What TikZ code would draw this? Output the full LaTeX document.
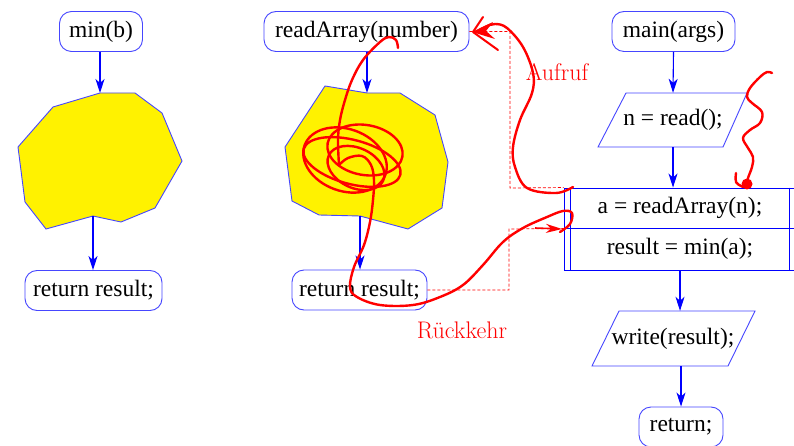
\documentclass[tikz,border=0pt]{standalone}
\usepackage{fontspec}
\newfontfamily\tnr{Liberation Serif}
\usetikzlibrary{arrows.meta,calc}
\definecolor{bline}{RGB}{70,70,255}
\begin{document}
\begin{tikzpicture}[x=1pt,y=-1pt,
  every node/.style={font=\tnr\fontsize{23.5}{28}\selectfont, inner sep=0pt},
  term/.style={draw=bline, line width=0.9pt, rounded corners=12pt, minimum height=40pt},
  pline/.style={draw=bline, line width=0.9pt},
  poly/.style={draw=bline, fill=yellow, line width=0.9pt},
  stmt/.style={draw=blue, line width=0.9pt, minimum width=232pt},
  arr/.style={draw=blue, line width=1.1pt, -{Stealth[length=14pt,width=9pt,inset=4pt]}},
  reddash/.style={draw=red, line width=0.7pt, dash pattern=on 3pt off 2pt},
  hand/.style={draw=red, line width=2.4pt, line cap=round, line join=round},
  lbl/.style={text=red, font=\rmfamily\fontsize{24}{28}\selectfont}
  ]
\useasboundingbox (0,0) rectangle (794,446);
\fill[white] (0,0) rectangle (794,446);

% polygons
\draw[poly] (100,93) coordinate (pa) -- (135,93) -- (162,113) -- (182,161) -- (155,208) -- (121,222) -- (93,216) coordinate (pb) -- (46,229) -- (25,202) -- (18,147) -- (53,107) -- cycle;
\draw[poly] (325,86) -- (367,93) coordinate (qa) -- (400,93) -- (435,115) -- (448,162) -- (442,208) -- (408,229) -- (360,216) coordinate (qb) -- (319,215) -- (292,201) -- (285,147) -- cycle;

% terminal nodes
\node[term, minimum width=83pt] (minb) at (101,31.5) {min(b)};
\node[term, minimum width=137pt] (ret1) at (93.5,290.5) {return result;};
\node[term, minimum width=205pt] (ra) at (366.5,31.5) {readArray(number)};
\node[term, minimum width=135pt] (ret2) at (359.5,290) {return result;};
\node[term, minimum width=123pt] (main) at (673.5,31.5) {main(args)};
\node[term, minimum width=84pt] (ret3) at (681,427) {return;};

% parallelograms
\node[minimum width=90pt, minimum height=54pt] (rd) at (673,120) {n = read();};
\draw[pline] (626,93) -- (747,93) -- (723,147) -- (598,147) -- cycle;
\node[minimum width=90pt, minimum height=55pt] (wr) at (673,338.5) {write(result);};
\draw[pline] (619,311) -- (755,311) -- (728,366) -- (592,366) -- cycle;

% statement box
\node[stmt, minimum height=40pt] (s1) at (680,208) {a = readArray(n);};
\node[stmt, minimum height=42pt] (s2) at (680,249) {result = min(a);};
\draw[blue, line width=0.9pt] ([xshift=7pt]s1.north west) -- ([xshift=7pt]s2.south west);
\draw[blue, line width=0.9pt] ([xshift=-7pt]s1.north east) -- ([xshift=-7pt]s2.south east);

% arrows
\draw[arr] (pa |- minb.south) -- (pa);
\draw[arr] (pb) -- (pb |- ret1.north);
\draw[arr] (qa |- ra.south) -- (qa);
\draw[arr] (qb) -- (qb |- ret2.north);
\draw[arr] (main.south) -- (rd.north);
\draw[arr] (rd.south) -- (rd.south |- s1.north);
\draw[arr] (s2.south) -- (s2.south |- wr.north);
\draw[arr] (ret3.north |- wr.south) -- (ret3.north);

% dashed call/return lines
\draw[reddash] (ra.east) -| (510,188) -- (s1.north west);
\draw[reddash] (ret2.east) -| (509,229) -- (s1.south west);

% labels
\node[lbl] (auf) at (557,72) {Aufruf};
\node[lbl] (rk) at (462,330) {Rückkehr};

% hand drawn: Aufruf
\draw[hand] plot[smooth, tension=0.6] coordinates {(573,187) (556,193) (527,188) (515,167) (513,147) (520,120) (532,93) (533,73) (523,47) (507,28) (495,24) (485,27) (476,32)};
\fill[red] (472,32) -- (493,22) -- (486,31) -- (495,39) -- cycle;
\draw[hand, line width=2pt] (483,17) -- (473,32) -- (498,50);

% hand drawn: Rueckkehr with scribble
\draw[hand] plot[smooth, tension=0.6] coordinates {(398,48) (396,40) (389,37) (380,42) (363,60) (352,80) (345,100) (340,120) (338,140) (339,165)};
\draw[hand, rotate around={-20:(345,160)}] (345,160) ellipse [x radius=43, y radius=31];
\draw[hand, rotate around={-10:(365,150)}] (365,150) ellipse [x radius=38, y radius=25];
\draw[hand, rotate around={-15:(352,162)}] (352,162) ellipse [x radius=50, y radius=22];
\draw[hand, rotate around={-25:(356,168)}] (356,168) ellipse [x radius=30, y radius=20];
\draw[hand] plot[smooth, tension=0.6] coordinates {(339,165) (348,158) (362,156) (371,165) (374,180) (373,200) (370,222) (364,245) (354,267) (350,287) (357,297) (380,305) (413,305) (440,297) (463,285) (483,265) (503,242) (523,228) (547,217) (563,211) (572,213) (570,224) (560,232)};
\draw[red, line width=1.6pt, -{Stealth[length=16pt,width=9pt,inset=5pt]}] (535,228) -- (562,229);

% hand drawn squiggle
\draw[hand] plot[smooth, tension=0.6] coordinates {(772,73) (767,72) (760,77) (750,88) (747,97) (752,103) (762,112) (760,123) (750,130) (743,138) (748,148) (753,157) (752,167) (748,178) (747,184)};
\fill[red] (747,184) circle (5.5);
\draw[hand] (736,173) .. controls (735,183) .. (743,187);
\end{tikzpicture}
\end{document}
